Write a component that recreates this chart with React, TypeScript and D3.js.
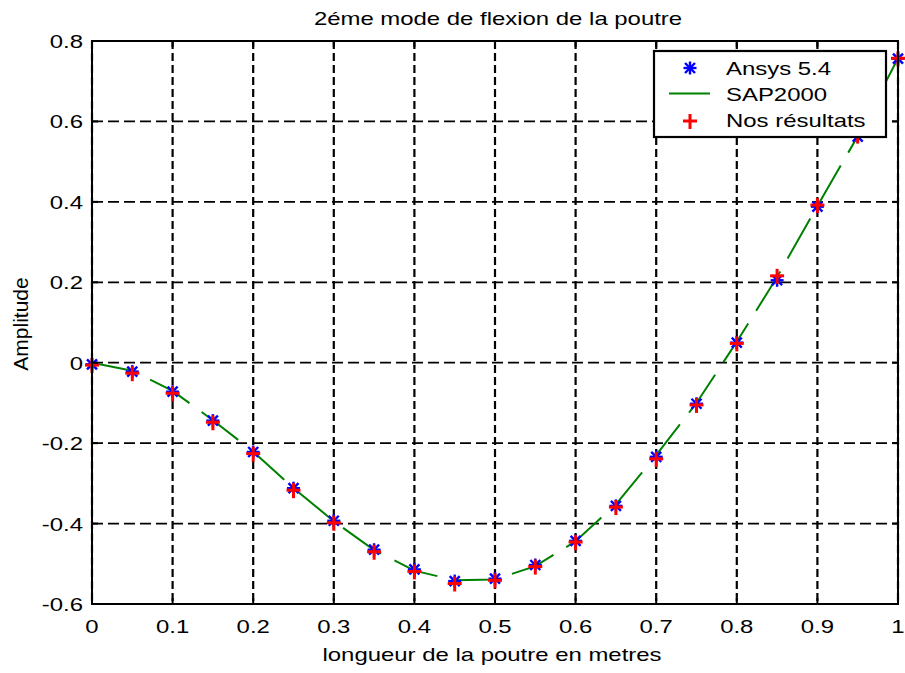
import * as d3 from 'd3';

const positions = [0, 0.05, 0.1, 0.15, 0.2, 0.25, 0.3, 0.35, 0.4, 0.45, 0.5, 0.55, 0.6, 0.65, 0.7, 0.75, 0.8, 0.85, 0.9, 0.95, 1];
const ansys = [-0.004, -0.022, -0.072, -0.144, -0.222, -0.312, -0.393, -0.465, -0.514, -0.543, -0.537, -0.503, -0.443, -0.356, -0.234, -0.102, 0.05, 0.205, 0.388, 0.562, 0.756];
const sap2000 = [0, -0.02, -0.07, -0.143, -0.221, -0.312, -0.394, -0.466, -0.517, -0.541, -0.539, -0.506, -0.444, -0.352, -0.23, -0.1, 0.052, 0.213, 0.39, 0.563, 0.757];
const nosResultats = [-0.006, -0.026, -0.076, -0.148, -0.226, -0.317, -0.398, -0.47, -0.519, -0.549, -0.541, -0.507, -0.446, -0.359, -0.239, -0.105, 0.048, 0.216, 0.392, 0.565, 0.757];

const xTicks = [0, 0.1, 0.2, 0.3, 0.4, 0.5, 0.6, 0.7, 0.8, 0.9, 1];
const xTickLabels = ['0', '0.1', '0.2', '0.3', '0.4', '0.5', '0.6', '0.7', '0.8', '0.9', '1'];
const yTicks = [-0.6, -0.4, -0.2, 0, 0.2, 0.4, 0.6, 0.8];
const yTickLabels = ['-0.6', '-0.4', '-0.2', '0', '0.2', '0.4', '0.6', '0.8'];
const legendLabels = ['Ansys 5.4', 'SAP2000', 'Nos résultats'];

const W = 905;
const H = 673;
const FONT = '"Liberation Sans", Arial, Helvetica, sans-serif';
const STRETCH = 1.33;

// text in the reference is widened horizontally
function Txt({ x, y, anchor = 'start', children }: { x: number; y: number; anchor?: string; children: any }) {
  return (
    <text
      transform={`translate(${x},${y}) scale(${STRETCH},1)`}
      textAnchor={anchor}
      fontFamily={FONT}
      fontSize={18}
      fill="#000"
    >
      {children}
    </text>
  );
}

function Star({ cx, cy }: { cx: number; cy: number }) {
  const a = 6.5;
  const b = 5;
  return (
    <g stroke="#0000ff" strokeWidth={2.4}>
      <line x1={cx - a} x2={cx + a} y1={cy} y2={cy} />
      <line x1={cx} x2={cx} y1={cy - a} y2={cy + a} />
      <line x1={cx - b} x2={cx + b} y1={cy - b} y2={cy + b} />
      <line x1={cx - b} x2={cx + b} y1={cy + b} y2={cy - b} />
    </g>
  );
}

function Plus({ cx, cy }: { cx: number; cy: number }) {
  return (
    <g stroke="#ff0000" strokeWidth={3}>
      <line x1={cx - 7} x2={cx + 7} y1={cy} y2={cy} />
      <line x1={cx} x2={cx} y1={cy - 7} y2={cy + 8} />
    </g>
  );
}

export default function App() {
  const left = 92, right = 898, top = 41, bottom = 604;
  const x = d3.scaleLinear().domain([0, 1]).range([left, right]);
  const y = d3.scaleLinear().domain([-0.6, 0.8]).range([bottom, top]);

  const line = d3.line<number>()
    .x((_, i) => x(positions[i]))
    .y(d => y(d));

  const tickLen = 6;

  return (
    <svg width={W} height={H} style={{ position: 'absolute', left: 0, top: 0, background: '#fff' }}>
      <rect x={0} y={0} width={W} height={H} fill="#fff" />

      {/* grid */}
      {xTicks.map(t => (
        <line key={'gx' + t} x1={x(t)} x2={x(t)} y1={top} y2={bottom}
          stroke="#000" strokeWidth={2.2} strokeDasharray="8,4" />
      ))}
      {yTicks.map(t => (
        <line key={'gy' + t} x1={left} x2={right} y1={y(t)} y2={y(t)}
          stroke="#000" strokeWidth={1.8} strokeDasharray="11,5" />
      ))}

      {/* SAP2000 */}
      <path d={line(sap2000) || ''} fill="none" stroke="#008000" strokeWidth={2} strokeDasharray="46,15" />

      {/* Ansys 5.4 */}
      {ansys.map((v, i) => <Star key={'a' + i} cx={x(positions[i])} cy={y(v)} />)}

      {/* Nos résultats */}
      {nosResultats.map((v, i) => <Plus key={'n' + i} cx={x(positions[i])} cy={y(v)} />)}

      {/* axes box + ticks */}
      <rect x={left} y={top} width={right - left} height={bottom - top} fill="none" stroke="#000" strokeWidth={2} />
      {xTicks.map(t => (
        <g key={'tx' + t} stroke="#000" strokeWidth={2}>
          <line x1={x(t)} x2={x(t)} y1={bottom} y2={bottom - tickLen} />
          <line x1={x(t)} x2={x(t)} y1={top} y2={top + tickLen} />
        </g>
      ))}
      {yTicks.map(t => (
        <g key={'ty' + t} stroke="#000" strokeWidth={2}>
          <line x1={left} x2={left + tickLen} y1={y(t)} y2={y(t)} />
          <line x1={right} x2={right - tickLen} y1={y(t)} y2={y(t)} />
        </g>
      ))}

      {/* tick labels */}
      {xTicks.map((t, i) => (
        <Txt key={'lx' + t} x={x(t)} y={633} anchor="middle">{xTickLabels[i]}</Txt>
      ))}
      {yTicks.map((t, i) => (
        <Txt key={'ly' + t} x={83} y={y(t) + 7} anchor="end">{yTickLabels[i]}</Txt>
      ))}

      {/* titles */}
      <Txt x={(left + right) / 2 + 3} y={25} anchor="middle">2éme mode de flexion de la poutre</Txt>
      <Txt x={(left + right) / 2 - 3} y={661} anchor="middle">longueur de la poutre en metres</Txt>
      <text transform={`translate(28,324) rotate(-90)`} textAnchor="middle" fontFamily={FONT} fontSize={21} fill="#000">
        Amplitude
      </text>

      {/* legend */}
      <rect x={654} y={51} width={232} height={86} fill="#fff" stroke="#000" strokeWidth={2.2} />
      <Star cx={690} cy={68} />
      <line x1={669} x2={710} y1={93.5} y2={93.5} stroke="#008000" strokeWidth={2} />
      <Plus cx={690} cy={121} />
      <Txt x={726} y={75}>{legendLabels[0]}</Txt>
      <Txt x={726} y={101}>{legendLabels[1]}</Txt>
      <Txt x={726} y={127}>{legendLabels[2]}</Txt>
    </svg>
  );
}
